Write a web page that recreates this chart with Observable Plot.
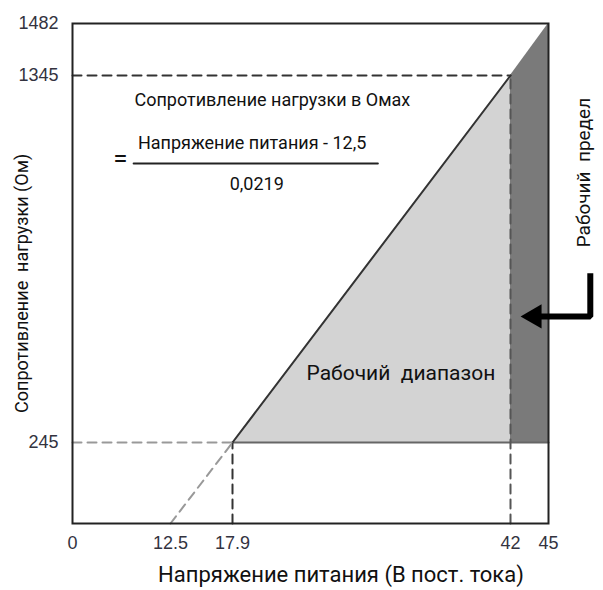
<!DOCTYPE html>
<html><head><meta charset="utf-8">
<script src="https://cdn.jsdelivr.net/npm/d3@7"></script>
<script src="https://cdn.jsdelivr.net/npm/@observablehq/plot@0.6"></script>
<style>
body{margin:0;background:#fff}
g[aria-label$="tick label"]{font-family:"Liberation Sans","DejaVu Sans",Roboto,sans-serif !important;font-size:18px !important;}
</style>
</head><body><div id="chart"></div>
<script>
// Tick values (schematic, non-uniform axes)
const xTicks = [0, 12.5, 17.9, 42, 45];
const yTicks = [245, 1345, 1482];

// Operating range (light) and operating limit (dark) zones
const zoneLight = [{x: 17.9, y1: 245, y2: 245}, {x: 42, y1: 245, y2: 1345}];
const zoneDark = [{x: 42, y1: 245, y2: 1345}, {x: 45, y1: 245, y2: 1482}];
const limitLine = [{x: 17.9, y: 245}, {x: 42, y: 1345}];
const baseLine = [{x: 17.9, y: 245}, {x: 45, y: 245}];

// Dashed guides
const guideTop = [{x: 0, y: 1345}, {x: 42, y: 1345}];
const guideV42 = [{x: 42, y: 0}, {x: 42, y: 1345}];
const guideV179 = [{x: 17.9, y: 0}, {x: 17.9, y: 245}];
const guideLow = [{x: 0, y: 245}, {x: 17.9, y: 245}];
const guideDiag = [{x: 12.5, y: 0}, {x: 17.9, y: 245}];

// Annotations (data-space anchors)
const formulaTitle = [{x: 7.9, y: 1270, t: "Сопротивление нагрузки в Омах"}];
const formulaNum = [{x: 19.6, y: 1141, t: "Напряжение питания - 12,5"}];
const formulaDen = [{x: 20.0, y: 1020, t: "0,0219"}];
const formulaEq = [{x: 6.1, y: 1096, t: "="}];
const fractionBar = [{x: 7.8, y: 1081}, {x: 30.5, y: 1081}];
const rangeLabel = [{x: 32.5, y: 452, t: "Рабочий  диапазон"}];
const limitLabel = [{x: 47.8, y: 1054, t: "Рабочий  предел"}];
const yTitle = [{x: -6.4, y: 722, t: "Сопротивление  нагрузки (Ом)"}];
const arrowPath = [{x: 48.3, y: 752}, {x: 48.3, y: 623}, {x: 44.3, y: 623}];
const arrowHead = [{x: 43.9, y: 623}];
const xTitle = "Напряжение  питания (В пост. тока)";

const face = "Roboto,'Liberation Sans',sans-serif";

const chart = Plot.plot({
  width: 603,
  height: 560,
  marginLeft: 72, marginRight: 55, marginTop: 23, marginBottom: 37,
  style: {background: "#fff", overflow: "visible"},
  x: {type: "linear", domain: [0, 12.5, 17.9, 42, 45], range: [72, 170, 232, 510, 548]},
  y: {type: "linear", domain: [0, 245, 1345, 1482], range: [523, 442, 75, 23]},
  marks: [
    Plot.areaY(zoneLight, {x: "x", y1: "y1", y2: "y2", fill: "#d3d3d3"}),
    Plot.areaY(zoneDark, {x: "x", y1: "y1", y2: "y2", fill: "#7a7a7a"}),
    Plot.line(baseLine, {x: "x", y: "y", stroke: "#666", strokeWidth: 2}),
    Plot.line(limitLine, {x: "x", y: "y", stroke: "#333", strokeWidth: 2}),
    Plot.line(guideTop, {x: "x", y: "y", stroke: "#333", strokeWidth: 2, strokeDasharray: "9,6"}),
    Plot.line(guideV42, {x: "x", y: "y", stroke: "#555", strokeWidth: 2, strokeDasharray: "9,6"}),
    Plot.line(guideV179, {x: "x", y: "y", stroke: "#333", strokeWidth: 2, strokeDasharray: "9,6"}),
    Plot.line(guideLow, {x: "x", y: "y", stroke: "#999", strokeWidth: 2, strokeDasharray: "9,6"}),
    Plot.line(guideDiag, {x: "x", y: "y", stroke: "#999", strokeWidth: 2, strokeDasharray: "9,6"}),
    Plot.frame({stroke: "#222", strokeWidth: 2}),
    Plot.axisX({ticks: xTicks, tickSize: 0, tickPadding: 13, tickFormat: d => String(d), fill: "#33333f", label: null}),
    Plot.axisY({ticks: yTicks, tickSize: 0, tickPadding: 14, tickFormat: d => String(d), fill: "#33333f", label: null}),
    Plot.text(formulaTitle, {x: "x", y: "y", text: "t", textAnchor: "start", fontSize: 18, fontFamily: face, fill: "#111"}),
    Plot.text(formulaNum, {x: "x", y: "y", text: "t", fontSize: 18, fontFamily: face, fill: "#111"}),
    Plot.text(formulaDen, {x: "x", y: "y", text: "t", fontSize: 18, fontFamily: face, fill: "#111"}),
    Plot.text(formulaEq, {x: "x", y: "y", text: "t", fontSize: 26, fontFamily: face, fill: "#111"}),
    Plot.line(fractionBar, {x: "x", y: "y", stroke: "#222", strokeWidth: 2}),
    Plot.text(rangeLabel, {x: "x", y: "y", text: "t", fontSize: 21, fontFamily: face, fill: "#111"}),
    Plot.text(limitLabel, {x: "x", y: "y", text: "t", rotate: -90, fontSize: 19, fontFamily: face, fill: "#111"}),
    Plot.text(yTitle, {x: "x", y: "y", text: "t", rotate: -90, fontSize: 18, fontFamily: face, fill: "#111"}),
    Plot.line(arrowPath, {x: "x", y: "y", stroke: "#000", strokeWidth: 6, strokeLinejoin: "miter", strokeLinecap: "butt"}),
    Plot.dot(arrowHead, {x: "x", y: "y", symbol: "triangle", r: 9, rotate: -90, fill: "#000", stroke: "none"})
  ]
});
const wrap = document.getElementById("chart");
wrap.appendChild(chart);
const cap = document.createElement("div");
cap.style.cssText = "width:603px;text-align:center;margin-top:2px;padding-left:79px;box-sizing:border-box;";
const span = document.createElement("span");
span.textContent = xTitle;
span.style.cssText = `display:inline-block;font-family:${face};font-size:22px;color:#111;`;
cap.appendChild(span);
wrap.appendChild(cap);
</script>
</body></html>
